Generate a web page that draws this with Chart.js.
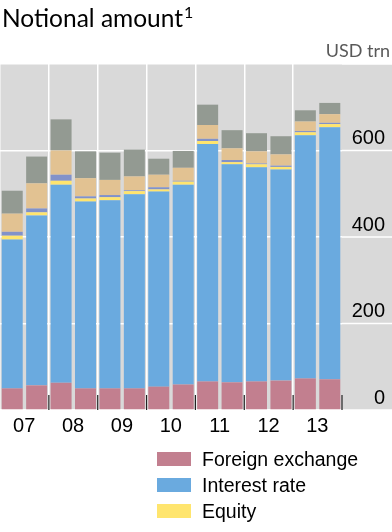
<!DOCTYPE html>
<html>
<head>
<meta charset="utf-8">
<script src="https://cdn.jsdelivr.net/npm/chart.js@4.4.1/dist/chart.umd.min.js"></script>
<style>
  body { margin: 0; background: #fff; }
  #wrap { position: relative; width: 392px; height: 532px; overflow: hidden; font-family: "Liberation Sans", Arial, sans-serif; }
  #chart { position: absolute; left: 0; top: 0; }
  .title { position: absolute; left: 2px; top: 3px; font-family: Lato, sans-serif; font-size: 24.5px; color: #000; white-space: nowrap; }
  .title span { font-size: 16px; position: relative; top: -9px; margin-left: 1px; }
  .unit { position: absolute; right: 2px; top: 39px; font-family: Lato, sans-serif; font-size: 18px; color: #595959; }
  #legend { position: absolute; left: 157px; top: 446px; }
  .item { height: 26px; display: flex; align-items: center; font-size: 19.5px; color: #000; }
  .sw { width: 34px; height: 14px; margin-right: 11px; }
</style>
</head>
<body>
<div id="wrap">
  <canvas id="chart" width="392" height="532"></canvas>
  <div class="title">Notional amount<span>1</span></div>
  <div class="unit">USD trn</div>
  <div id="legend"></div>
</div>
<script>
// semestres jun/dic 2007-2013
var periods = ['H1 07', 'H2 07', 'H1 08', 'H2 08', 'H1 09', 'H2 09', 'H1 10', 'H2 10', 'H1 11', 'H2 11', 'H1 12', 'H2 12', 'H1 13', 'H2 13'];
var yearLabels = ['07', '08', '09', '10', '11', '12', '13'];
var yTicks = [0, 200, 400, 600];

var foreignExchange = [50, 57, 63, 50, 50, 50, 54, 59, 66, 64, 66, 68, 73, 71];
var interestRate = [344, 393, 458, 432, 435, 449, 451, 462, 549, 504, 495, 488, 562, 583];
var equity = [9, 7, 9, 7, 7, 7, 5, 7, 7, 5, 7, 6, 7, 7];
var commodities = [9, 9, 14, 5, 5, 2, 5, 2, 5, 5, 2, 3, 3, 3];
var cds = [42, 58, 56, 42, 35, 32, 29, 30, 32, 27, 28, 26, 22, 20];
var unallocated = [53, 62, 72, 62, 63, 62, 37, 39, 47, 42, 42, 42, 26, 26];

var series = [
    { label: 'Foreign exchange', data: foreignExchange, color: '#c27f8f', legend: true },
    { label: 'Interest rate', data: interestRate, color: '#6aaadf', legend: true },
    { label: 'Equity', data: equity, color: '#ffe56e', legend: true },
    { label: 'Commodities', data: commodities, color: '#8292c9', legend: false },
    { label: 'Credit default swaps', data: cds, color: '#e2c292', legend: false },
    { label: 'Unallocated', data: unallocated, color: '#939a92', legend: false }
];

// fondo gris + lineas blancas hasta el borde derecho
var backdrop = {
    id: 'backdrop',
    beforeDraw: function(chart) {
        var ctx = chart.ctx, a = chart.chartArea, y = chart.scales.y;
        ctx.save();
        ctx.fillStyle = '#d9d9d9';
        ctx.fillRect(a.left, a.top, chart.width - a.left, a.bottom - a.top);
        ctx.strokeStyle = '#ffffff';
        ctx.lineWidth = 1.5;
        y.ticks.forEach(function(t) {
            var py = y.getPixelForValue(t.value);
            ctx.beginPath();
            ctx.moveTo(a.right, py);
            ctx.lineTo(chart.width, py);
            ctx.stroke();
        });
        ctx.restore();
    },
    afterDatasetsDraw: function(chart) {
        // marcas oscuras entre años
        var ctx = chart.ctx, a = chart.chartArea, x = chart.scales.x;
        var half = (x.getPixelForValue(1) - x.getPixelForValue(0)) / 2;
        ctx.save();
        ctx.strokeStyle = '#222';
        ctx.lineWidth = 1.2;
        for (var i = 2; i <= periods.length; i += 2) {
            var px = x.getPixelForValue(i - 1) + half;
            ctx.beginPath();
            ctx.moveTo(px, a.bottom - 15);
            ctx.lineTo(px, a.bottom);
            ctx.stroke();
        }
        ctx.restore();
    }
};

var legendBox = document.getElementById('legend');
series.filter(function(s) { return s.legend; }).forEach(function(s) {
    var row = document.createElement('div');
    row.className = 'item';
    row.innerHTML = '<div class="sw" style="background:' + s.color + '"></div>' + s.label;
    legendBox.appendChild(row);
});

new Chart(document.getElementById('chart'), {
    type: 'bar',
    data: {
        labels: periods,
        datasets: series.map(function(s) {
            return {
                label: s.label,
                data: s.data,
                backgroundColor: s.color,
                borderWidth: 0,
                barPercentage: 0.86,
                categoryPercentage: 1
            };
        })
    },
    options: {
        responsive: false,
        animation: false,
        layout: { padding: { top: 64, right: 7, bottom: 82, left: 0 } },
        plugins: {
            legend: { display: false },
            tooltip: { enabled: false }
        },
        scales: {
            x: {
                stacked: true,
                border: { display: false },
                grid: {
                    offset: true,
                    drawTicks: false,
                    lineWidth: 1.5,
                    color: function(c) { return c.index % 2 === 0 ? '#ffffff' : 'rgba(0,0,0,0)'; }
                },
                ticks: {
                    autoSkip: false,
                    maxRotation: 0,
                    padding: 4,
                    labelOffset: 12,
                    color: '#000',
                    font: { family: 'Liberation Sans', size: 20 },
                    callback: function(v, i) { return i % 2 === 0 ? yearLabels[i / 2] : ''; }
                },
                afterFit: function(scale) {
                    scale.height = 40;
                    scale.paddingLeft = 0;
                    scale.paddingRight = 0;
                }
            },
            y: {
                stacked: true,
                position: 'right',
                min: 0,
                max: 800,
                border: { display: false },
                grid: { drawTicks: false, color: '#ffffff', lineWidth: 1.5 },
                ticks: {
                    stepSize: 200,
                    crossAlign: 'far',
                    padding: 9,
                    labelOffset: -12,
                    color: '#000',
                    font: { family: 'Liberation Sans', size: 20 },
                    callback: function(v) { return yTicks.indexOf(v) >= 0 ? v : ''; }
                },
                afterFit: function(scale) { scale.width = 43; }
            }
        }
    },
    plugins: [backdrop]
});
</script>
</body>
</html>
